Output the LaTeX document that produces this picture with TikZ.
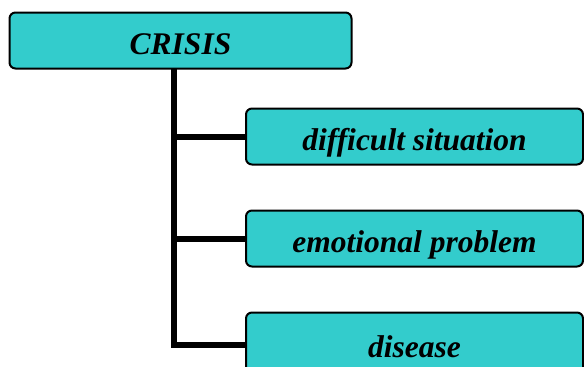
\documentclass[tikz,border=0pt]{standalone}
\usepackage{fontspec}
\setmainfont{Liberation Serif}
\definecolor{boxcyan}{RGB}{51,204,204}
\begin{document}
\begin{tikzpicture}[x=1pt,y=-1pt,
  boxtext/.style={font=\fontsize{31.5}{36}\selectfont\bfseries\itshape, inner sep=0pt, outer sep=0pt,
    text height=28pt, text depth=0pt},
  box/.style={boxtext, draw=black, line width=2pt, fill=boxcyan, rounded corners=6pt},
  conn/.style={line width=6pt, line join=miter}]
\useasboundingbox (0,0) rectangle (584,367);
\clip (0,0) rectangle (584,367);
\node[box, minimum width=342pt, minimum height=56pt] (crisis) at (180.5,40.5) {CRISIS};
\node[box, minimum width=337pt, minimum height=56pt] (diff) at (414.5,136.5) {difficult situation};
\node[box, minimum width=337pt, minimum height=56pt] (emo) at (414.5,238.5) {emotional problem};
\node[box, minimum width=337pt, minimum height=65pt] (dis) at (414.5,345) {};
\begin{scope}
\clip (0,0) rectangle (584,358);
\node[boxtext] (distext) at (414.5,343) {disease};
\end{scope}
\coordinate (corner) at (174,340);
\draw[conn] (crisis.south -| corner) |- (dis.west);
\draw[conn] (corner |- diff.west) -- (diff.west);
\draw[conn] (corner |- emo.west) -- (emo.west);
\end{tikzpicture}
\end{document}
